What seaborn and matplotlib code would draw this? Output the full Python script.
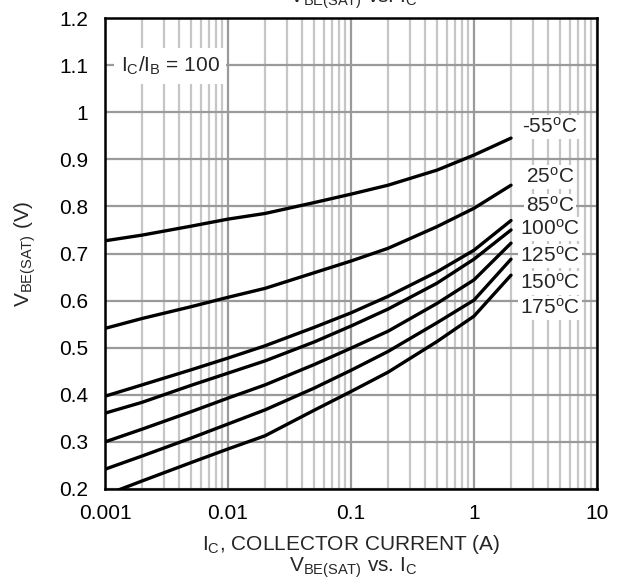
import numpy as np
import pandas as pd
import seaborn as sns
import matplotlib.pyplot as plt
from matplotlib.ticker import LogLocator, FixedLocator, NullFormatter

# collector current points (A)
ic = [0.001, 0.002, 0.005, 0.01, 0.02, 0.05, 0.1, 0.2, 0.5, 1, 2]

# VBE(sat), one list per temperature
temps = ['-55', '25', '85', '100', '125', '150', '175']
vbe = {
    '-55': [0.727, 0.739, 0.758, 0.773, 0.785, 0.808, 0.826, 0.845, 0.877, 0.909, 0.945],
    '25':  [0.541, 0.562, 0.587, 0.607, 0.626, 0.659, 0.684, 0.711, 0.757, 0.796, 0.845],
    '85':  [0.397, 0.421, 0.453, 0.478, 0.504, 0.543, 0.574, 0.609, 0.661, 0.707, 0.770],
    '100': [0.361, 0.384, 0.420, 0.446, 0.472, 0.512, 0.546, 0.582, 0.637, 0.688, 0.750],
    '125': [0.300, 0.327, 0.364, 0.393, 0.421, 0.464, 0.499, 0.535, 0.594, 0.644, 0.722],
    '150': [0.242, 0.270, 0.308, 0.338, 0.368, 0.414, 0.452, 0.492, 0.553, 0.601, 0.688],
    '175': [0.187, 0.217, 0.256, 0.285, 0.313, 0.367, 0.407, 0.448, 0.513, 0.567, 0.654],
}
# label y positions (data units) at the right side
label_y = [0.969, 0.862, 0.801, 0.752, 0.695, 0.637, 0.584]

sns.set_style('white')
plt.rcParams['font.family'] = ['Liberation Sans', 'DejaVu Sans']
plt.rcParams['mathtext.fontset'] = 'custom'
plt.rcParams['mathtext.rm'] = 'Liberation Sans'
plt.rcParams['mathtext.it'] = 'Liberation Sans'

rows = []
for t in temps:
    for x, y in zip(ic, vbe[t]):
        rows.append({'ic': x, 'vbe': y, 'temp': t})
df = pd.DataFrame(rows)

fs = 15
fig = plt.figure(figsize=(6.22, 5.84), dpi=100)
ax = fig.add_axes([105/622, 1-489/584, 492/622, 471/584])

sns.lineplot(data=df, x='ic', y='vbe', hue='temp', palette=['black']*len(temps),
             linewidth=2.4, legend=False, ax=ax, zorder=3)

ax.set_xscale('log')
ax.set_xlim(0.001, 10)
ax.set_ylim(0.2, 1.2)
ax.xaxis.set_major_locator(FixedLocator([0.001, 0.01, 0.1, 1, 10]))
ax.xaxis.set_minor_locator(LogLocator(base=10, subs=np.arange(2, 10)))
ax.xaxis.set_minor_formatter(NullFormatter())
ax.set_xticklabels(['0.001', '0.01', '0.1', '1', '10'])
ax.set_yticks(np.arange(0.2, 1.21, 0.1))
ax.set_yticklabels(['0.2', '0.3', '0.4', '0.5', '0.6', '0.7', '0.8', '0.9', '1', '1.1', '1.2'])

ax.grid(which='major', color='#9a9a9a', linewidth=1.6)
ax.grid(which='minor', axis='x', color='#c6c6c6', linewidth=1.6)
ax.tick_params(which='both', length=0, labelsize=fs, colors='black')
ax.tick_params(axis='y', pad=12)
ax.tick_params(axis='x', pad=11)
for s in ax.spines.values():
    s.set_color('black')
    s.set_linewidth(1.8)
    s.set_zorder(5)

ax.set_xlabel('I$_\\mathrm{C}$, COLLECTOR CURRENT (A)', fontsize=fs, va='center')
ax.xaxis.set_label_coords(0.5, -(544-489)/471)
ax.set_ylabel('V$_\\mathrm{BE(SAT)}$ (V)', fontsize=fs, va='center')
ax.yaxis.set_label_coords(-(105-25)/492, 0.5)
fig.text(353/622, 1-568/584, 'V$_\\mathrm{BE(SAT)}$ vs. I$_\\mathrm{C}$', fontsize=fs,
         ha='center', va='center')
# title above the plot, cut by the top edge as in the source
fig.text(353/622, 1-3/584, 'V$_\\mathrm{BE(SAT)}$ vs. I$_\\mathrm{C}$', fontsize=fs,
         ha='center', va='baseline')

for t, ly in zip(temps, label_y):
    ax.text(4.15, ly, t + '$^\\mathrm{o}$C', fontsize=fs, ha='center', va='center',
            bbox=dict(facecolor='white', edgecolor='none', pad=1.5), zorder=4)

ax.text(0.00338, 1.098, 'I$_\\mathrm{C}$/I$_\\mathrm{B}$ = 100', fontsize=fs,
        ha='center', va='center',
        bbox=dict(facecolor='white', edgecolor='none', pad=5), zorder=4)

fig.savefig('out.png', dpi=100)
